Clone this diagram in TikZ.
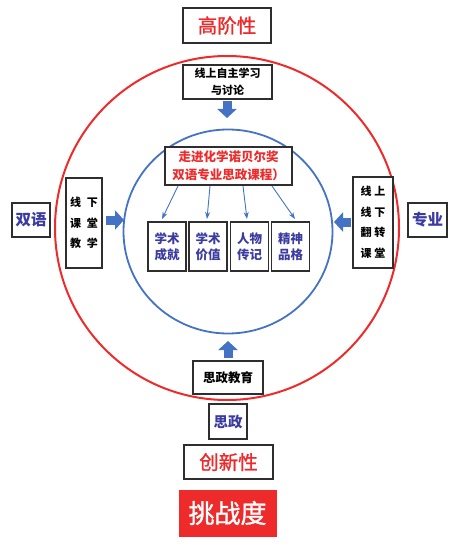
\documentclass[tikz,border=0pt]{standalone}
\usepackage{fontspec}
\newfontfamily\cjk{Noto Sans CJK SC}
\newfontfamily\cjkm[FakeBold=1.2]{Noto Sans CJK SC}
\usetikzlibrary{arrows.meta,shapes.geometric}
\definecolor{cred}{HTML}{EE2A2A}
\definecolor{cblue}{HTML}{4472C4}
\definecolor{cpurp}{HTML}{3C3CA0}
\definecolor{cborder}{HTML}{2E2E2E}
\tikzset{
  box/.style={draw=cborder, line width=1.8pt, fill=white, inner sep=0pt, align=center, font=\cjk\bfseries},
  blockarrow/.style={draw=cblue, line width=9pt, -{Triangle[width=19pt,length=9pt]}, cblue},
  thinarrow/.style={draw=cblue, line width=0.9pt, -{Stealth[length=7pt,width=5pt]}},
}
\begin{document}
\begin{tikzpicture}[x=1pt,y=-1pt]
\useasboundingbox (0,0) rectangle (461,545);
% circles
\node[draw=cred, line width=2pt, circle, minimum size=344pt, inner sep=0pt] (outer) at (227,228) {};
\node[draw=cblue, line width=1.8pt, ellipse, minimum width=209pt, minimum height=204pt, inner sep=0pt] (inner) at (228,231.5) {};
% top boxes
\node[box, minimum width=88pt, minimum height=35pt, text=cred, font=\cjkm\fontsize{19.5}{22}\selectfont] (high) at (227,25.5) {高阶性};
\node[box, minimum width=89pt, minimum height=34pt, font=\cjk\bfseries\fontsize{11}{17}\selectfont] (online) at (227.5,82) {线上自主学习\\与讨论};
% title
\node[box, minimum width=127pt, minimum height=38pt, text=cred, font=\cjk\bfseries\fontsize{12.5}{18}\selectfont] (title) at (228.5,166) {走进化学诺贝尔奖\\双语专业思政课程）};
% four small boxes
\node[box, minimum width=38pt, minimum height=49pt, text=cpurp, font=\cjk\bfseries\fontsize{12.5}{16}\selectfont] (b1) at (167,246.5) {学术\\成就};
\node[box, minimum width=38pt, minimum height=49pt, text=cpurp, font=\cjk\bfseries\fontsize{12.5}{16}\selectfont] (b2) at (208,246.5) {学术\\价值};
\node[box, minimum width=38pt, minimum height=49pt, text=cpurp, font=\cjk\bfseries\fontsize{12.5}{16}\selectfont] (b3) at (249.5,246.5) {人物\\传记};
\node[box, minimum width=38pt, minimum height=49pt, text=cpurp, font=\cjk\bfseries\fontsize{12.5}{16}\selectfont] (b4) at (290.5,246.5) {精神\\品格};
% side boxes
\node[box, minimum width=36pt, minimum height=90pt, font=\cjk\bfseries\fontsize{11}{20.5}\selectfont] (left) at (84,223) {线\hspace{6pt}下\\课\hspace{6pt}堂\\教\hspace{6pt}学};
\node[box, minimum width=40pt, minimum height=91pt, font=\cjk\bfseries\fontsize{11}{20.5}\selectfont] (right) at (373,222.5) {线\hspace{3pt}上\\线\hspace{3pt}下\\翻\hspace{3pt}转\\课\hspace{3pt}堂};
\node[box, minimum width=38pt, minimum height=34pt, text=cpurp, font=\cjk\bfseries\fontsize{15.5}{18}\selectfont] (shuang) at (31,220) {双语};
\node[box, minimum width=39pt, minimum height=34pt, text=cpurp, font=\cjk\bfseries\fontsize{15.5}{18}\selectfont] (zhuan) at (427.5,220) {专业};
% bottom boxes
\node[box, minimum width=70pt, minimum height=33pt, font=\cjk\bfseries\fontsize{12.5}{15}\selectfont] (szjy) at (228,377.5) {思政教育};
\node[box, minimum width=38pt, minimum height=35pt, text=cpurp, font=\cjk\bfseries\fontsize{14.5}{17}\selectfont] (sz) at (228,421.5) {思政};
\node[box, minimum width=89pt, minimum height=34pt, text=cred, font=\cjkm\fontsize{19.5}{22}\selectfont] (cx) at (228.5,462) {创新性};
\node[box, draw=cred, fill=cred, line width=0pt, minimum width=97pt, minimum height=46pt, text=white, font=\cjkm\fontsize{26}{28}\selectfont] (tzd) at (227.5,513) {挑战度};
% block arrows
\coordinate (ta) at (227,118);
\coordinate (ba) at (228,341);
\coordinate (la) at (124,220);
\coordinate (ra) at (334,222);
\draw[blockarrow, shorten <=1pt] (online.south -| ta) -- (ta);
\draw[blockarrow, shorten <=2pt] (szjy.north -| ba) -- (ba);
\draw[blockarrow, shorten <=3pt] (left.east |- la) -- (la);
\draw[blockarrow, shorten <=1pt] (right.west |- ra) -- (ra);
% thin arrows
\coordinate (s1) at (178,186);
\coordinate (s2) at (210,186);
\coordinate (s3) at (243,186);
\coordinate (s4) at (272,186);
\coordinate (e1) at (162,219);
\coordinate (e2) at (207,219);
\coordinate (e3) at (247,219);
\coordinate (e4) at (295,219);
\draw[thinarrow] (s1) -- (e1);
\draw[thinarrow] (s2) -- (e2);
\draw[thinarrow] (s3) -- (e3);
\draw[thinarrow] (s4) -- (e4);
\end{tikzpicture}
\end{document}
